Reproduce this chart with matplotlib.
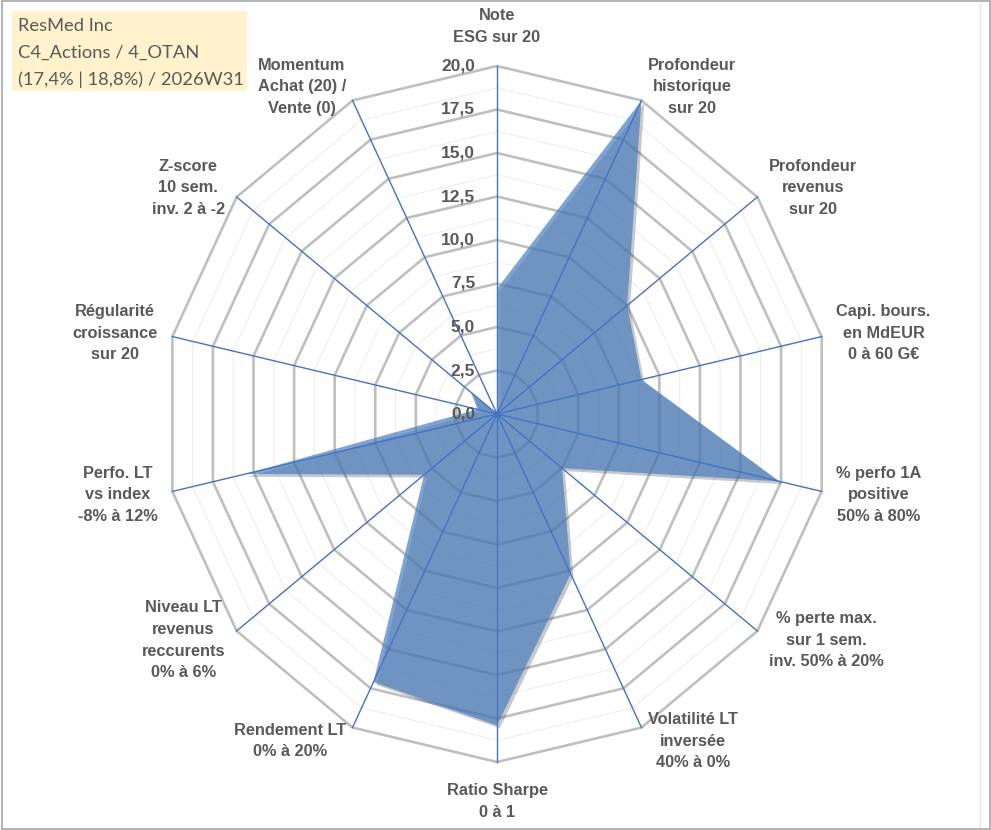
import numpy as np
import matplotlib
matplotlib.use("Agg")
import matplotlib.pyplot as plt
import matplotlib.patheffects as pe
from matplotlib.patches import Rectangle, Polygon

# axes of the radar, clockwise from the top
categories = [
    "Note\nESG sur 20",
    "Profondeur\nhistorique\nsur 20",
    "Profondeur\nrevenus\nsur 20",
    "Capi. bours.\nen MdEUR\n0 à 60 G€",
    "% perfo 1A\npositive\n50% à 80%",
    "% perte max.\nsur 1 sem.\ninv. 50% à 20%",
    "Volatilité LT\ninversée\n40% à 0%",
    "Ratio Sharpe\n0 à 1",
    "Rendement LT\n0% à 20%",
    "Niveau LT\nrevenus\nreccurents\n0% à 6%",
    "Perfo. LT\nvs index\n-8% à 12%",
    "Régularité\ncroissance\nsur 20",
    "Z-score\n10 sem.\ninv. 2 à -2",
    "Momentum\nAchat (20) /\nVente (0)",
]
scores = [7.2, 20.0, 10.0, 8.9, 17.4, 5.0, 10.2, 17.9, 17.1, 5.6, 15.5, 1.2, 2.0, 0.0]

r_major = [0, 2.5, 5, 7.5, 10, 12.5, 15, 17.5, 20]
r_minor = [1.25, 3.75, 6.25, 8.75, 11.25, 13.75, 16.25, 18.75]
tick_labels = ["0,0", "2,5", "5,0", "7,5", "10,0", "12,5", "15,0", "17,5", "20,0"]
r_max = 20

title_lines = ["ResMed Inc", "C4_Actions / 4_OTAN", "(17,4% | 18,8%) / 2026W31"]

# layout (pixels)
W, H = 991, 830
cx, cy = 497, 414          # centre of the radar
rx_px, ry_px = 333, 348    # radius of the 20 ring, the chart is a bit stretched

grey_txt = "#595959"
blue = "#4472C4"

fig = plt.figure(figsize=(W / 100, H / 100), dpi=100)
ax = fig.add_axes([0, 0, 1, 1])
sx = rx_px / r_max
sy = ry_px / r_max
ax.set_xlim(-cx / sx, (W - cx) / sx)
ax.set_ylim(-(H - cy) / sy, cy / sy)
ax.axis("off")

n = len(categories)
theta = 2 * np.pi * np.arange(n) / n
dx, dy = np.sin(theta), np.cos(theta)


def ring(r):
    return np.column_stack([r * dx, r * dy])


for r in r_minor:
    ax.add_patch(Polygon(ring(r), closed=True, fill=False, ec="#EEEEEE", lw=0.8, zorder=1))
for r in r_major[1:]:
    ax.add_patch(Polygon(ring(r), closed=True, fill=False, ec="#BFBFBF", lw=1.9, zorder=1))

vals = np.array(scores)
ax.add_patch(Polygon(np.column_stack([vals * dx, vals * dy]), closed=True,
                     fc=(0.31, 0.50, 0.74), alpha=0.72, lw=0, zorder=2,
                     path_effects=[pe.SimplePatchShadow(offset=(2, -2), alpha=0.25),
                                   pe.Normal()]))

for i in range(n):
    ax.plot([0, r_max * dx[i]], [0, r_max * dy[i]], color=blue, lw=1.0, zorder=3)
ax.plot([0], [0], "o", color=blue, ms=4, zorder=3)

# radial tick labels, left of the top spoke
for r, lab in zip(r_major, tick_labels):
    ax.annotate(lab, (0, r), xytext=(-22, 0), textcoords="offset pixels",
                ha="right", va="center", fontsize=12.5, fontweight="bold",
                color=grey_txt, family="Liberation Sans", zorder=4)

# category labels just outside the outer ring
for i, lab in enumerate(categories):
    s, c = dx[i], dy[i]
    if abs(s) < 0.05:
        ha = "center"
        va = "bottom" if c > 0 else "top"
        gap = 21
    else:
        ha = "left" if s > 0 else "right"
        va = "center"
        gap = 15
    ax.annotate(lab, (r_max * s, r_max * c), xytext=(gap * s, gap * c),
                textcoords="offset pixels", ha=ha, va=va, multialignment="center",
                fontsize=11.8, fontweight="bold", color=grey_txt,
                family="Liberation Sans", linespacing=1.55, zorder=4)

# info box top-left
fig.patches.append(Rectangle((12 / W, 1 - 91 / H), 235 / W, 80 / H,
                             transform=fig.transFigure, fc="#FFF2CC", ec="none"))
fig.text(18 / W, 1 - 53 / H, "\n".join(title_lines), ha="left", va="center",
         fontsize=13.2, color=grey_txt, family="Lato", linespacing=1.8)

# chart frame
fig.patches.append(Rectangle((1.5 / W, 1.5 / H), 1 - 3 / W, 1 - 3 / H,
                             transform=fig.transFigure, fill=False, ec="#A6A6A6", lw=1.2))
fig.lines.append(plt.Line2D([980 / W, 980 / W], [3 / H, 1 - 3 / H],
                            transform=fig.transFigure, color="#E4E4E4", lw=1))

fig.savefig("out.png", dpi=100)
